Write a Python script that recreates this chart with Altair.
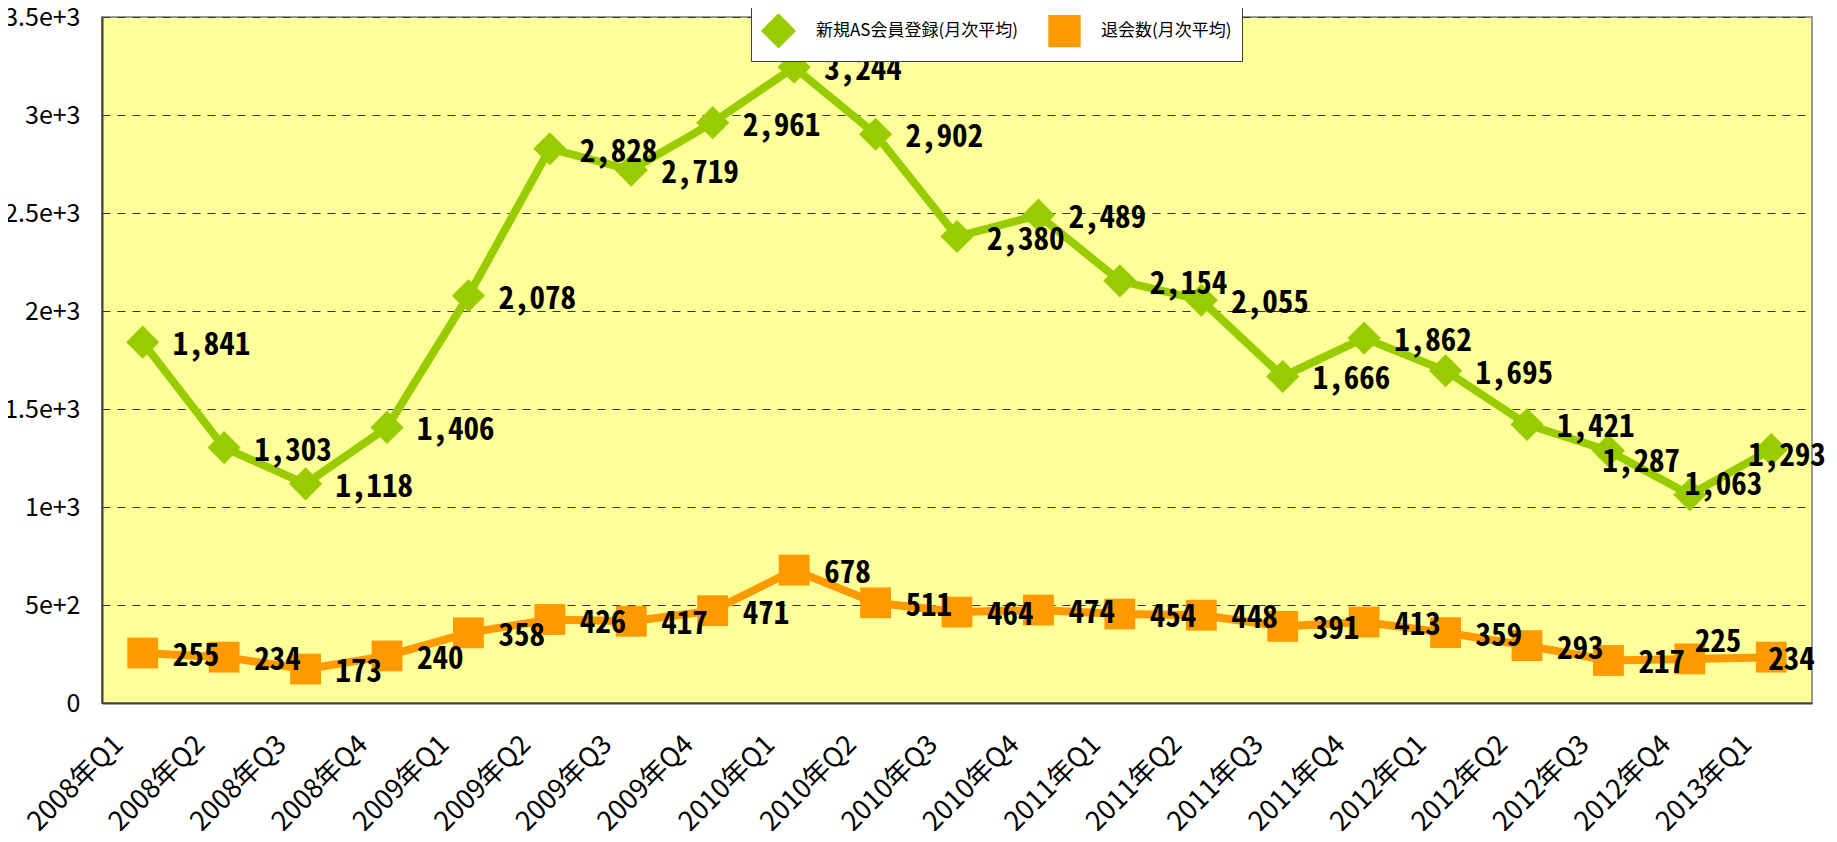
import altair as alt
import pandas as pd

quarters = [
    "2008年Q1", "2008年Q2", "2008年Q3", "2008年Q4",
    "2009年Q1", "2009年Q2", "2009年Q3", "2009年Q4",
    "2010年Q1", "2010年Q2", "2010年Q3", "2010年Q4",
    "2011年Q1", "2011年Q2", "2011年Q3", "2011年Q4",
    "2012年Q1", "2012年Q2", "2012年Q3", "2012年Q4",
    "2013年Q1",
]
new_members = [1841, 1303, 1118, 1406, 2078, 2828, 2719, 2961, 3244, 2902,
               2380, 2489, 2154, 2055, 1666, 1862, 1695, 1421, 1287, 1063, 1293]
withdrawals = [255, 234, 173, 240, 358, 426, 417, 471, 678, 511,
               464, 474, 454, 448, 391, 413, 359, 293, 217, 225, 234]
series_names = ["新規AS会員登録(月次平均)", "退会数(月次平均)"]
series_colors = ["#99CC00", "#FF9900"]
y_ticks = [0, 500, 1000, 1500, 2000, 2500, 3000, 3500]

rows = []
for i, q in enumerate(quarters):
    rows.append({"quarter": q, "series": series_names[0], "value": new_members[i], "idx": i})
    rows.append({"quarter": q, "series": series_names[1], "value": withdrawals[i], "idx": i})
df = pd.DataFrame(rows)

JP = "Noto Sans CJK JP"
MONO = "Noto Sans Mono CJK JP"

x_enc = alt.X(
    "quarter:N", sort=quarters, scale=alt.Scale(type="point", padding=0.5),
    axis=alt.Axis(
        orient="bottom", title=None, labelAngle=315, labelAlign="right",
        labelBaseline="middle", labelFont=JP, labelFontSize=27, labelColor="#000000",
        labelOffset=-24, labelPadding=37, ticks=False, tickSize=0, grid=False,
        domainColor="#404040", domainWidth=2, labelOverlap=False,
    ),
)

y_enc = alt.Y(
    "value:Q", scale=alt.Scale(domain=[0, 3500], nice=False),
    axis=alt.Axis(
        orient="left", title=None, values=y_ticks, format=",", labelFont=JP, labelFontSize=25,
        labelColor="#000000", labelPadding=22, ticks=False, tickSize=0, domainColor="#404040",
        domainWidth=2, grid=True, gridDash=[8, 7], gridColor="#333333", gridWidth=1,
    ),
)

legend = alt.Legend(
    title=None, orient="none", legendX=649, legendY=-14, direction="horizontal",
    fillColor="#FFFFFF", strokeColor="#404040", padding=10,
    symbolSize=220, symbolOpacity=1,
    labelFont=JP, labelFontSize=17, labelColor="#000000", labelOffset=20,
    columnPadding=28, labelLimit=400,
)

color_enc = alt.Color("series:N", scale=alt.Scale(domain=series_names, range=series_colors), legend=legend)

base = alt.Chart(df)

lines = base.mark_line(strokeWidth=8).encode(
    x=x_enc, y=y_enc, color=color_enc, order=alt.Order("idx:Q"),
)

points = base.mark_point(filled=True, opacity=1).encode(
    x=x_enc, y=y_enc, color=color_enc,
    shape=alt.Shape("series:N", scale=alt.Scale(domain=series_names, range=["diamond", "square"]), legend=legend),
    size=alt.Size("series:N", scale=alt.Scale(domain=series_names, range=[1100, 950]), legend=None),
)


def label_layer(cond, dx, dy):
    return base.transform_filter(cond).mark_text(
        align="left", baseline="middle", dx=dx, dy=dy, font=MONO, fontSize=31,
        fontWeight="bold", color="#000000",
    ).encode(
        x=x_enc, y=y_enc,
        text=alt.Text("value:Q", format=","),
    )


g = f"datum.series === '{series_names[0]}'"
o = f"datum.series === '{series_names[1]}'"
labels = [
    label_layer(f"({g} && datum.idx < 18) || ({o} && datum.idx < 19)", 30, 4),
    label_layer(f"{g} && datum.idx === 18", -6, 12),
    label_layer(f"{g} && datum.idx === 19", -5, -9),
    label_layer(f"{g} && datum.idx === 20", -23, 7),
    label_layer(f"{o} && datum.idx === 19", 5, -16),
    label_layer(f"{o} && datum.idx === 20", -3, 4),
]

chart = alt.layer(lines, points, *labels).properties(
    width=1710, height=686,
    autosize=alt.AutoSizeParams(type="none"),
    padding={"left": 94, "top": 9, "right": 17, "bottom": 128},
    background="#FFFFFF",
).configure_view(
    fill="#FFFF99", stroke="#999999", strokeWidth=2,
)

chart.save("out.html", embed_options={"renderer": "svg", "actions": False})
